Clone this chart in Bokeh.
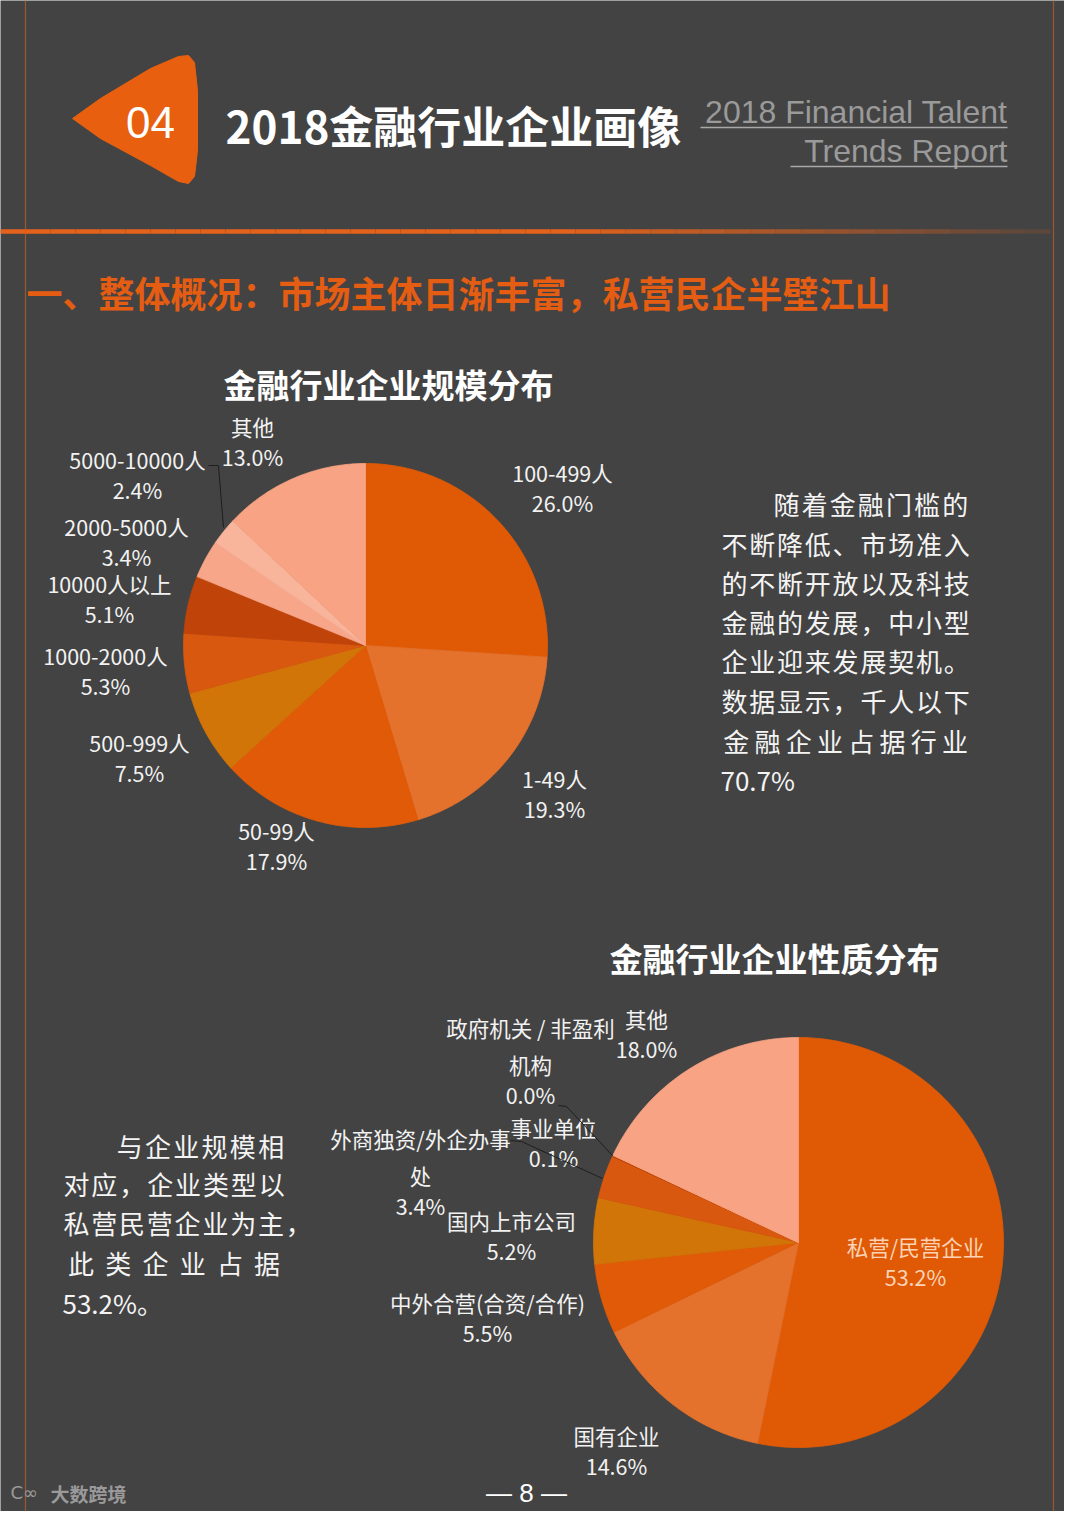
import numpy as np
from bokeh.plotting import figure
from bokeh.models import Range1d, ColumnDataSource
from bokeh.core.properties import value
from bokeh.embed import file_html
from bokeh.resources import INLINE

# ---------------- data ----------------
size_labels = ["100-499人", "1-49人", "50-99人", "500-999人", "1000-2000人",
               "10000人以上", "2000-5000人", "5000-10000人", "其他"]
size_values = [26.0, 19.3, 17.9, 7.5, 5.3, 5.1, 3.4, 2.4, 13.0]
size_colors = ["#e05a06", "#e4712c", "#e05a08", "#d27508", "#d8580f",
               "#c0440a", "#f7a68a", "#f9b59c", "#f8a383"]

type_labels = ["私营/民营企业", "国有企业", "中外合营(合资/合作)", "国内上市公司",
               "外商独资/外企办事\n处", "事业单位", "政府机关 / 非盈利\n机构", "其他"]
type_values = [53.2, 14.6, 5.5, 5.2, 3.4, 0.1, 0.0, 18.0]
type_colors = ["#e05a06", "#e4712c", "#e05a08", "#d27508", "#d8580f",
               "#c0440a", "#f7a68a", "#f8a383"]

title_main = "2018金融行业企业画像"
title_en = ["2018 Financial Talent", "Trends Report"]
section_title = "一、整体概况：市场主体日渐丰富，私营民企半壁江山"
chart1_title = "金融行业企业规模分布"
chart2_title = "金融行业企业性质分布"
right_text = ["随着金融门槛的", "不断降低、市场准入", "的不断开放以及科技", "金融的发展，中小型",
              "企业迎来发展契机。", "数据显示，千人以下", "金融企业占据行业", "70.7%"]
left_text = ["与企业规模相", "对应，企业类型以", "私营民营企业为主，", "此类企业占据", "53.2%。"]

# ---------------- figure ----------------
BG = "#434343"
CJK = "Noto Sans CJK SC"
p = figure(width=1064, height=1511, x_range=Range1d(0, 1064), y_range=Range1d(1511, 0),
           output_backend="svg", toolbar_location=None, min_border=0)
p.axis.visible = False
p.grid.visible = False
p.background_fill_color = BG
p.border_fill_color = BG
p.outline_line_color = None


def txt(x, y, s, size, color="#ffffff", align="center", bold=False, font=CJK):
    p.text(x=[x], y=[y], text=[s], text_font=value(font), text_font_size=f"{size}px",
           text_color=color, text_align=align, text_baseline="middle",
           text_font_style="bold" if bold else "normal")


# frame lines
p.segment(x0=[25, 1053], y0=[0, 0], x1=[25, 1053], y1=[1527, 1527],
          line_color="#9c5632", line_width=1.2)
# gradient horizontal rule
xs = np.linspace(0, 1050, 43)
alphas = [1.0 if x < 550 else max(0.12, 1.0 - (x - 550) / 560) for x in xs[:-1]]
p.segment(x0=xs[:-1], y0=[231] * (len(xs) - 1), x1=xs[1:], y1=[231] * (len(xs) - 1),
          line_color="#e4621c", line_width=4.5, line_alpha=alphas)

# header badge
bx = [72, 100, 150, 178, 188, 194, 197, 197, 194, 188, 178, 150, 100]
by = [118, 98, 68, 56, 55, 62, 90, 150, 176, 183, 181, 165, 138]
p.patch(bx, by, fill_color="#e8600f", line_color="#e8600f")
txt(150, 122, "04", 44, font="Liberation Sans")
txt(225, 124, title_main, 44, align="left", bold=True)
txt(1007, 111, title_en[0], 32, color="#9a9a9a", align="right", font="Liberation Sans")
txt(1007, 150, title_en[1], 32, color="#9a9a9a", align="right", font="Liberation Sans")
p.segment(x0=[700, 790], y0=[127, 166], x1=[1007, 1007], y1=[127, 166],
          line_color="#a8a8a8", line_width=1.5)

# section heading
txt(26, 291, section_title, 36, color="#e45d12", align="left", bold=True)

# chart titles
txt(388, 383, chart1_title, 33, bold=True)
txt(774, 957, chart2_title, 33, bold=True)


# ---------------- pies ----------------
def pie(cx, cy, r, values, colors):
    total = sum(values)
    xs_l, ys_l = [], []
    acc = 0.0
    for v in values:
        a0 = 2 * np.pi * acc / total
        a1 = 2 * np.pi * (acc + v) / total
        acc += v
        t = np.linspace(a0, a1, max(2, int(200 * (a1 - a0) / np.pi) + 2))
        xs_l.append([cx] + list(cx + r * np.sin(t)))
        ys_l.append([cy] + list(cy - r * np.cos(t)))
    src = ColumnDataSource(dict(xs=xs_l, ys=ys_l, c=colors))
    p.patches("xs", "ys", source=src, fill_color="c", line_color="c", line_width=0.8)


pie(365, 645, 182, size_values, size_colors)
pie(798, 1242, 205, type_values, type_colors)

LBL = 21.5
# pie 1 labels (center x, name y); pct line 30 px below
size_pos = [(562, 472), (554, 778), (276, 830), (139, 742), (105, 655),
            (109, 583), (126, 526), (137, 459), (252, 426)]
for lab, v, (x, y) in zip(size_labels, size_values, size_pos):
    txt(x, y, lab, LBL, color="#f2f2f2")
    txt(x, y + 30, f"{v:.1f}%", LBL, color="#f2f2f2")
p.line([208, 218, 223], [465, 465, 527], line_color="#1e1e1e", line_width=1)

# pie 2 labels
type_pos = [(915, 1246), (616, 1435), (487, 1302), (511, 1220),
            (420, 1138), (553, 1127), (530, 1027), (646, 1018)]
for i, (lab, v, (x, y)) in enumerate(zip(type_labels, type_values, type_pos)):
    col = "#fcd3b6" if i == 0 else "#f2f2f2"
    parts = lab.split("\n")
    yy = y
    for k, part in enumerate(parts):
        if k > 0:
            yy += 37
        txt(x, yy, part, LBL, color=col)
    txt(x, yy + 30, f"{v:.1f}%", LBL, color=col)
p.line([558, 566, 612], [1105, 1106, 1155], line_color="#1e1e1e", line_width=1)
p.line([510, 521, 602], [1140, 1141, 1178], line_color="#1e1e1e", line_width=1)


# ---------------- text blocks ----------------
def char_line(s, x0, cell, y, size=26):
    xs_c = [x0 + cell * (i + 0.5) for i in range(len(s))]
    p.text(x=xs_c, y=[y] * len(s), text=list(s), text_font=value(CJK),
           text_font_size=f"{size}px", text_color="#f4f4f4", text_align="center",
           text_baseline="middle")


r_y = [503, 543, 582, 621, 660, 700, 740, 779]
r_x = [772, 720, 720, 720, 720, 720, 720]
r_cell = [28.1, 27.8, 27.8, 27.8, 27.8, 27.8, 31.25]
for s, x0, c, y in zip(right_text[:-1], r_x, r_cell, r_y[:-1]):
    char_line(s, x0, c, y)
txt(720, r_y[-1], right_text[-1], 26, color="#f4f4f4", align="left")

l_y = [1145, 1183, 1222, 1262, 1302]
l_x = [115, 62, 62, 62]
l_cell = [28.3, 27.9, 27.8, 37.2]
for s, x0, c, y in zip(left_text[:-1], l_x, l_cell, l_y[:-1]):
    char_line(s, x0, c, y)
txt(62, l_y[-1], left_text[-1], 26, color="#f4f4f4", align="left")

# footer
txt(526, 1492, "— 8 —", 26, font="Liberation Sans")
txt(10, 1492, "C∞", 18, color="#9a9a9a", align="left", font="DejaVu Sans")
txt(50, 1493, "大数跨境", 19, color="#9a9a9a", align="left", bold=True)

open("out.html", "w").write(file_html(p, INLINE))
